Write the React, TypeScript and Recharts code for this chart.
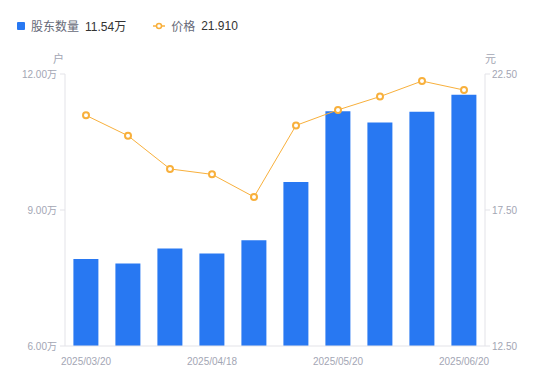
import React from 'react';
import { ComposedChart, Bar, Line, XAxis, YAxis } from 'recharts';

const dates = ['2025/03/20', '2025/03/31', '2025/04/10', '2025/04/18', '2025/04/30', '2025/05/09', '2025/05/20', '2025/05/30', '2025/06/10', '2025/06/20'];
const holders = [7.92, 7.82, 8.15, 8.04, 8.33, 9.62, 11.18, 10.93, 11.17, 11.54];
const prices = [20.98, 20.23, 19.01, 18.81, 17.98, 20.61, 21.18, 21.67, 22.24, 21.91];
const leftTicks = [6, 9, 12];
const rightTicks = [12.5, 17.5, 22.5];

const data = dates.map((d, i) => ({ date: d, holders: holders[i], price: prices[i] }));

const BLUE = '#2878f2';
const ORANGE = '#f8b03c';
const AXIS = '#e3e3e8';
const TICK = '#a3a6b4';
const FONT = '"Liberation Sans", Arial, "Noto Sans CJK SC", sans-serif';

export default function App() {
  return (
    <div style={{ position: 'absolute', left: 0, top: 0, width: 550, height: 381, background: '#fff', fontFamily: FONT }}>
      <div style={{ position: 'absolute', left: 17, top: 17, fontSize: 12, display: 'flex', alignItems: 'center', whiteSpace: 'nowrap' }}>
        <span style={{ display: 'inline-block', width: 8, height: 8, background: BLUE, borderRadius: 1, marginRight: 6 }} />
        <span style={{ color: '#666a78', marginRight: 6 }}>股东数量</span>
        <span style={{ color: '#333' }}>11.54万</span>
        <svg width="12" height="8" style={{ marginLeft: 27, marginRight: 6 }}>
          <line x1="0" y1="4" x2="12" y2="4" stroke={ORANGE} strokeWidth={1.5} />
          <circle cx="6" cy="4" r="2.5" fill="#fff" stroke={ORANGE} strokeWidth={1.5} />
        </svg>
        <span style={{ color: '#666a78', marginRight: 6 }}>价格</span>
        <span style={{ color: '#333' }}>21.910</span>
      </div>
      <div style={{ position: 'absolute', left: 53, top: 50, fontSize: 11, color: TICK }}>户</div>
      <div style={{ position: 'absolute', left: 485, top: 50, fontSize: 11, color: TICK }}>元</div>
      <ComposedChart width={550} height={381} data={data} margin={{ top: 74, right: 0, bottom: 0, left: 0 }} barCategoryGap="20%">
        <XAxis dataKey="date" interval={2} tickLine={false} axisLine={{ stroke: AXIS }} height={35}
          tick={{ fontSize: 10, fill: TICK, fontFamily: FONT }} tickMargin={6} />
        <YAxis yAxisId="left" orientation="left" width={65} domain={[6, 12]} ticks={leftTicks}
          tickFormatter={(v: number) => v.toFixed(2) + '万'} axisLine={{ stroke: AXIS }} tickLine={{ stroke: AXIS }}
          tickSize={5} tickMargin={3} tick={{ fontSize: 10, fill: TICK, fontFamily: FONT }} />
        <YAxis yAxisId="right" orientation="right" width={65} domain={[12.5, 22.5]} ticks={rightTicks}
          tickFormatter={(v: number) => v.toFixed(2)} axisLine={{ stroke: AXIS }} tickLine={{ stroke: AXIS }}
          tickSize={5} tickMargin={2} tick={{ fontSize: 10, fill: TICK, fontFamily: FONT }} />
        <Bar yAxisId="left" dataKey="holders" fill={BLUE} isAnimationActive={false} />
        <Line yAxisId="right" dataKey="price" stroke={ORANGE} strokeWidth={1} type="linear"
          dot={{ r: 3, fill: '#fff', stroke: ORANGE, strokeWidth: 2 }} activeDot={false} isAnimationActive={false} />
      </ComposedChart>
    </div>
  );
}
